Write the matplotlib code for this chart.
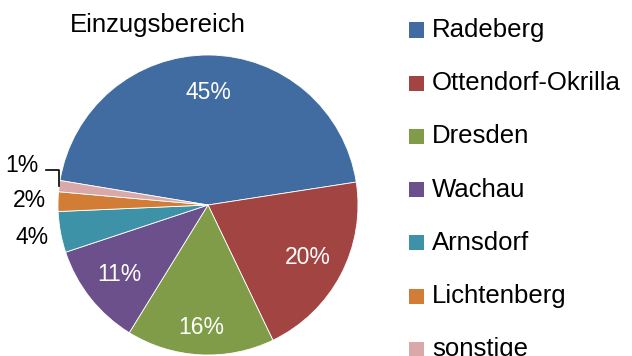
import numpy as np
import matplotlib.pyplot as plt
from matplotlib.patches import Rectangle

plt.rcParams['font.family'] = ['Liberation Sans', 'DejaVu Sans']

# Einzugsbereich (Anteile in %)
orte = ['Radeberg', 'Ottendorf-Okrilla', 'Dresden', 'Wachau', 'Arnsdorf',
        'Lichtenberg', 'sonstige']
anteile = [44.9, 20.3, 15.9, 11.1, 4.4, 2.1, 1.2]
farben = ['#416CA2', '#A24442', '#809C48', '#6B508B', '#3D92A8', '#D17D35', '#D9A8A9']

fig = plt.figure(figsize=(6.32, 3.56), dpi=100)
ax = fig.add_axes([58 / 632, 1 / 356, 300 / 632, 300 / 356])

wedges, _ = ax.pie(anteile, colors=farben, startangle=170.6, counterclock=False,
                   wedgeprops=dict(edgecolor='white', linewidth=0.6))
ax.set_xlim(-1, 1)
ax.set_ylim(-1, 1)
ax.set_aspect('equal')
ax.axis('off')

# Prozentbeschriftung: innen weiss, aussen schwarz
total = sum(anteile)
for i, w in enumerate(wedges):
    pct = anteile[i] / total * 100
    mid = np.deg2rad((w.theta1 + w.theta2) / 2)
    txt = f'{pct:.0f}%'
    if pct >= 10:
        d = 0.82 if orte[i] == 'Dresden' else 0.75
        ax.text(d * np.cos(mid), d * np.sin(mid), txt, color='white',
                fontsize=16.5, ha='center', va='center')
    elif orte[i] == 'sonstige':
        ex, ey = np.cos(mid), np.sin(mid)
        ax.plot([-1.08, ex, ex], [ey + 0.11, ey + 0.11, ey], color='black', lw=1.2,
                clip_on=False)
        ax.text(-1.24, ey + 0.14, txt, fontsize=16.5, ha='center', va='center')
    else:
        ax.text(1.19 * np.cos(mid), 1.19 * np.sin(mid), txt, fontsize=16.5,
                ha='center', va='center')

fig.text(158 / 632, 1 - 25 / 356, 'Einzugsbereich', fontsize=18.5,
         ha='center', va='center')

# Legende rechts
for i, (ort, f) in enumerate(zip(orte, farben)):
    y = 30 + i * 53.2
    fig.patches.append(Rectangle((409 / 632, 1 - (y + 7.5) / 356), 15 / 632, 15 / 356,
                                 facecolor=f, transform=fig.transFigure))
    fig.text(432 / 632, 1 - y / 356, ort, fontsize=18.5, ha='left', va='center')

fig.savefig('out.png', dpi=100)
